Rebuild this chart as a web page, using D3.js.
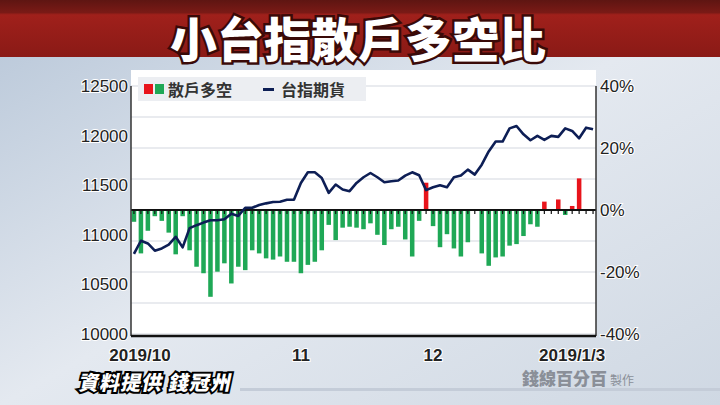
<!DOCTYPE html>
<html><head><meta charset="utf-8">
<script src="https://cdn.jsdelivr.net/npm/d3@7"></script>
<style>body{margin:0;overflow:hidden}</style>
</head><body>
<svg id="c" width="720" height="405"></svg>
<script>
const ratio = [-3.8,-14,-6.7,-2,-3.5,-7.3,-14.3,-2,-13,-18.3,-20.4,-28,-19.9,-17.2,-23.7,-18.3,-19.4,-13,-14,-15.6,-16,-15,-16.7,-16.7,-20.4,-17.7,-16.7,-13,-4.8,-9.7,-5.7,-5.4,-5.7,-6.2,
 -4.3,-8,-11.3,-6.2,-5.4,-9.5,-15,-3.5,8.8,-5.2,-12,-7.8,-12.4,-15,-10.4,0,-14,-18,-15.3,-15,-11.5,-11,-8.4,-4.6,-5.4,2.7,0,3.4,-1.6,1.3,10.2,0,0];
const index = [10807,10940,10913,10840,10863,10900,10980,10873,11067,11097,11123,11147,11147,11157,11213,11190,11273,11273,11300,11317,11330,11333,11353,11353,11523,11630,11630,11573,11423,11507,11457,11440,11523,11580,
 11623,11580,11530,11540,11547,11597,11630,11600,11450,11480,11500,11480,11580,11597,11657,11607,11707,11840,11940,11940,12073,12097,12013,11953,11997,11957,11997,11987,12073,12047,11973,12080,12063];
const leftTicks = [10000,10500,11000,11500,12000,12500];
const rightTicks = [-40,-20,0,20,40];
const xTickIdx = [0,24,43,63];
const xTickLabels = ["2019/10","11","12","2019/1/3"];

const svg = d3.select("#c");
const defs = svg.append("defs");
const bg = defs.append("linearGradient").attr("id","bg").attr("x1",0).attr("y1",0).attr("x2",1).attr("y2",1);
bg.append("stop").attr("offset","0").attr("stop-color","#b7c6d8");
bg.append("stop").attr("offset","0.5").attr("stop-color","#e4e9f0");
bg.append("stop").attr("offset","1").attr("stop-color","#cfd8e3");
const rd = defs.append("linearGradient").attr("id","rd").attr("x1",0).attr("y1",0).attr("x2",0).attr("y2",1);
rd.append("stop").attr("offset","0").attr("stop-color","#5e1512");
rd.append("stop").attr("offset","0.22").attr("stop-color","#7a1a16");
rd.append("stop").attr("offset","0.26").attr("stop-color","#a0201b");
rd.append("stop").attr("offset","1").attr("stop-color","#8a1a16");
svg.append("rect").attr("width",720).attr("height",405).attr("fill","url(#bg)");
svg.append("rect").attr("width",720).attr("height",57).attr("fill","url(#rd)");
svg.append("text").attr("x",358).attr("y",57).attr("text-anchor","middle")
  .attr("font-family","Noto Sans CJK TC").attr("font-weight","900").attr("font-size",47)
  .attr("fill","#fff").attr("stroke","#3a0a08").attr("stroke-width",5).attr("paint-order","stroke")
  .text("小台指散戶多空比");

const L=131,R=596,T=86,B=334;
svg.append("rect").attr("x",L).attr("y",70).attr("width",R-L).attr("height",B+2-70).attr("fill","#fff");

const x = d3.scaleBand().domain(d3.range(ratio.length)).range([L,R]).paddingInner(0.35).paddingOuter(0.1);
const yL = d3.scaleLinear().domain([10000,12500]).range([B,T]);
const yR = d3.scaleLinear().domain([-40,40]).range([B,T]);

svg.append("g").selectAll("line").data(d3.range(-40,41,10)).join("line")
  .attr("x1",L).attr("x2",R).attr("y1",d=>yR(d)).attr("y2",d=>yR(d))
  .attr("stroke","#e2e4ea").attr("stroke-width",1.5);

svg.append("g").selectAll("rect").data(ratio).join("rect")
  .attr("x",(d,i)=>x(i)).attr("width",x.bandwidth())
  .attr("y",d=>yR(Math.max(0,d))).attr("height",d=>Math.abs(yR(d)-yR(0)))
  .attr("fill",d=>d>0?"#e8141b":"#1fa856");

svg.append("line").attr("x1",L).attr("x2",R).attr("y1",yR(0)).attr("y2",yR(0)).attr("stroke","#111").attr("stroke-width",2);
svg.append("g").selectAll("line").data(ratio).join("line")
  .attr("x1",(d,i)=>x(i)+x.bandwidth()/2).attr("x2",(d,i)=>x(i)+x.bandwidth()/2)
  .attr("y1",yR(0)).attr("y2",yR(0)+4).attr("stroke","#111").attr("stroke-width",1.2);

const line = d3.line().x((d,i)=>x(i)+x.bandwidth()/2).y(d=>yL(d));
svg.append("path").datum(index).attr("d",line).attr("fill","none").attr("stroke","#0d1e55").attr("stroke-width",2.6).attr("stroke-linejoin","round");

svg.append("line").attr("x1",L).attr("x2",L).attr("y1",T).attr("y2",B+2).attr("stroke","#333").attr("stroke-width",1.5);
svg.append("line").attr("x1",R).attr("x2",R).attr("y1",T).attr("y2",B+2).attr("stroke","#333").attr("stroke-width",1.5);
svg.append("line").attr("x1",L).attr("x2",R).attr("y1",B+2).attr("y2",B+2).attr("stroke","#111").attr("stroke-width",2.5);

const tstyle = s=>s.attr("font-family","Liberation Sans Narrow, Liberation Sans").attr("font-size",17).attr("fill","#222")
  .attr("stroke","#fff").attr("stroke-width",2).attr("paint-order","stroke");
svg.append("g").selectAll("text").data(leftTicks).join("text")
  .attr("x",L-3).attr("y",d=>yL(d)+6).attr("text-anchor","end").text(d=>d).call(tstyle);
svg.append("g").selectAll("text").data(rightTicks).join("text")
  .attr("x",R+4).attr("y",d=>yR(d)+6).text(d=>d+"%").call(tstyle);
svg.append("g").selectAll("text").data(xTickIdx).join("text")
  .attr("x",d=>x(d)+x.bandwidth()/2+(d===0?6:0)).attr("y",361).attr("text-anchor","middle")
  .attr("font-weight","bold").text((d,i)=>xTickLabels[i]).call(tstyle);

const lg = svg.append("g");
lg.append("rect").attr("x",138).attr("y",77).attr("width",228).attr("height",24).attr("fill","#eceef2");
lg.append("rect").attr("x",144).attr("y",84).attr("width",9).attr("height",10).attr("fill","#e8141b");
lg.append("rect").attr("x",155).attr("y",84).attr("width",9).attr("height",10).attr("fill","#1fa856");
lg.append("text").attr("x",168).attr("y",96).attr("font-family","Noto Sans CJK TC").attr("font-weight","bold").attr("font-size",16).attr("fill","#333").text("散戶多空");
lg.append("rect").attr("x",263).attr("y",88).attr("width",11).attr("height",3).attr("fill","#0d1e55");
lg.append("text").attr("x",281).attr("y",96).attr("font-family","Noto Sans CJK TC").attr("font-weight","bold").attr("font-size",16).attr("fill","#333").text("台指期貨");

svg.append("rect").attr("x",240).attr("y",388).attr("width",480).attr("height",3).attr("fill","#c4ccd8");
svg.append("text").attr("x",78).attr("y",390).attr("font-family","Noto Sans CJK TC").attr("font-weight","900")
  .attr("font-size",20).attr("letter-spacing",1).attr("fill","#fff").attr("stroke","#000").attr("stroke-width",4).attr("paint-order","stroke")
  .attr("transform","skewX(-12) translate(83,0)").text("資料提供 錢冠州");
svg.append("text").attr("x",522).attr("y",385).attr("font-family","Noto Sans CJK TC").attr("font-weight","900")
  .attr("font-size",17).attr("fill","#8a8f98").text("錢線百分百");
svg.append("text").attr("x",610).attr("y",385).attr("font-family","Noto Sans CJK TC")
  .attr("font-size",12).attr("fill","#8a8f98").text("製作");
</script>
</body></html>
